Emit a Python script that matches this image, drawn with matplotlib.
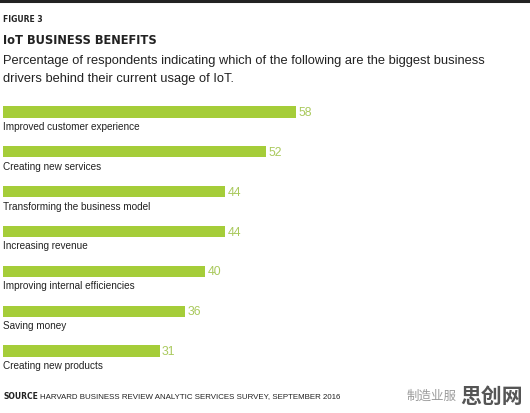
import matplotlib.pyplot as plt

# data
categories = ["Improved customer experience", "Creating new services",
              "Transforming the business model", "Increasing revenue",
              "Improving internal efficiencies", "Saving money",
              "Creating new products"]
values = [58, 52, 44, 44, 40, 36, 31]

BAR = "#a5cd39"
NUM = "#a9c95c"
W, H = 530, 414

fig = plt.figure(figsize=(W / 100, H / 100), dpi=100)
fig.patch.set_facecolor("white")

# bar area in pixels: x from 3 to 530, y from 93 to 372
ax = fig.add_axes([3 / W, 1 - 372 / H, 527 / W, 279 / H])
ax.set_xlim(0, 527 / 5.05)
ax.set_ylim(len(values) - 0.5, -0.5)
ax.axis("off")

ys = range(len(values))
ax.barh(ys, values, height=0.28, color=BAR, align="center")
for y, v, c in zip(ys, values, categories):
    ax.text(v + 0.5, y, str(v), color=NUM, fontsize=8.8, va="center", ha="left",
            family="Liberation Sans")
    ax.text(0, y + 0.35, c, color="#222222", fontsize=7.2, va="center", ha="left",
            family="Liberation Sans")

# top rule
fig.add_artist(plt.Line2D([0, 1], [1 - 1.5 / H, 1 - 1.5 / H], color="#222222", lw=2.2))

def fy(py):
    return 1 - py / H

fig.text(3 / W, fy(19), "FIGURE 3", fontsize=5.5, fontweight="bold", color="#222222",
         va="center", family="DejaVu Sans")
fig.text(3 / W, fy(40), "IoT BUSINESS BENEFITS", fontsize=8.3, fontweight="bold",
         color="#222222", va="center", family="DejaVu Sans")
fig.text(3 / W, fy(61), "Percentage of respondents indicating which of the following are the biggest business",
         fontsize=9.3, color="#222222", va="center", family="Liberation Sans")
fig.text(3 / W, fy(79), "drivers behind their current usage of IoT.",
         fontsize=9.3, color="#222222", va="center", family="Liberation Sans")

fig.text(3 / W, fy(397), "SOURCE", fontsize=5.5, fontweight="bold", color="#222222",
         va="center", family="DejaVu Sans")
fig.text(40 / W, fy(397), "HARVARD BUSINESS REVIEW ANALYTIC SERVICES SURVEY, SEPTEMBER 2016",
         fontsize=5.7, color="#222222", va="center", family="Liberation Sans")

# watermark
fig.text(407 / W, fy(396), "制造业服", fontsize=9, color="#9a9a9a", va="center",
         family=["Noto Sans CJK SC", "DejaVu Sans"])
fig.text(460 / W, fy(396), "思创网", fontsize=15, color="#555555", fontweight="bold",
         va="center", family=["Noto Sans CJK SC", "DejaVu Sans"])

fig.savefig("out.png", dpi=100)
